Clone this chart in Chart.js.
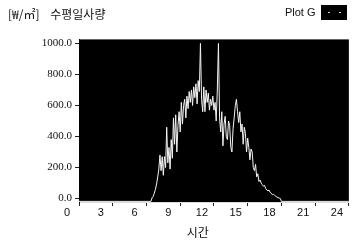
<!DOCTYPE html>
<html>
<head>
<meta charset="utf-8">
<script src="https://cdn.jsdelivr.net/npm/chart.js@4"></script>
<style>
  body { margin: 0; background: #fff; }
</style>
</head>
<body>
<canvas id="solarChart" width="355" height="240"></canvas>
<script>
// hour of day (x) and horizontal irradiance in W/m2 (y); sensor sits slightly below 0 at night
let hours = [0, 6.4, 6.5, 6.6, 6.7, 6.8, 6.9, 7.0, 7.1, 7.2, 7.3, 7.4, 7.5, 7.6, 7.7, 7.8, 7.9,
    8.0, 8.1, 8.2, 8.3, 8.4, 8.5, 8.6, 8.7, 8.8, 8.9, 9.0, 9.1, 9.2, 9.3, 9.4, 9.5, 9.6, 9.7, 9.8, 9.9,
    10.0, 10.1, 10.2, 10.3, 10.4, 10.5, 10.6, 10.7, 10.8, 10.9, 11.0, 11.1, 11.2, 11.3, 11.4, 11.5,
    11.6, 11.7, 11.8, 11.9, 12.0, 12.1, 12.2, 12.3, 12.4, 12.5, 12.6, 12.7, 12.8, 12.9, 13.0, 13.1,
    13.2, 13.3, 13.4, 13.5, 13.6, 13.7, 13.8, 13.9, 14.0, 14.1, 14.2, 14.3, 14.4, 14.5, 14.6, 14.7,
    14.8, 14.9, 15.0, 15.1, 15.2, 15.3, 15.4, 15.5, 15.6, 15.7, 15.8, 15.9, 16.0, 16.1, 16.2, 16.3,
    16.4, 16.5, 16.6, 16.7, 16.8, 16.9, 17.0, 17.1, 17.2, 17.3, 17.4, 17.5, 17.6, 17.7, 17.8, 17.9,
    18.0, 24];
let irradiance = [-18, -18, 5, 15, 35, 60, 95, 140, 190, 280, 180, 270, 150, 270, 200, 460, 230,
    330, 190, 380, 260, 520, 350, 540, 300, 470, 560, 430, 620, 480, 600, 640, 520, 660, 580, 690, 620,
    700, 600, 720, 650, 740, 610, 760, 690, 1000, 640, 560, 720, 560, 700, 620, 680,
    570, 640, 600, 660, 570, 620, 500, 700, 1000, 520, 430, 560, 340, 480, 530, 400,
    380, 500, 470, 330, 300, 450, 520, 600, 640, 560, 490, 560, 430, 480, 350, 460,
    420, 300, 390, 330, 250, 320, 300, 200, 180, 220, 140, 160, 110, 120, 100, 90,
    80, 85, 65, 55, 50, 55, 40, 35, 25, 28, 20, 15, 10, 6, 3, 1,
    -18, -18];
let xTicks = [0, 3, 6, 9, 12, 15, 18, 21, 24];
let yTicks = [0, 200, 400, 600, 800, 1000];

// little black legend swatch with a white dotted line sample
let swatch = document.createElement("canvas");
swatch.width = 26;
swatch.height = 15;
let sctx = swatch.getContext("2d");
sctx.fillStyle = "#000";
sctx.fillRect(0, 0, 26, 15);
sctx.fillStyle = "#ddd";
sctx.fillRect(7, 7, 2, 1);
sctx.fillRect(18, 7, 2, 1);

// black plot area like the original instrument panel
let plotBackground = {
    id: "plotBackground",
    beforeDraw(chart) {
        let a = chart.chartArea;
        chart.ctx.save();
        chart.ctx.fillStyle = "#000";
        chart.ctx.fillRect(a.left, a.top, a.right - a.left, a.bottom - a.top);
        chart.ctx.restore();
    },
};

let ctx = document.getElementById("solarChart").getContext("2d");
let solarChart = new Chart(ctx, {
    type: "line",
    data: {
        datasets: [
            {
                label: "Plot G",
                data: hours.map((h, i) => ({ x: h, y: irradiance[i] })),
                borderColor: "#f4f4f4",
                backgroundColor: "#000",
                borderWidth: 1,
                pointRadius: 0,
                tension: 0,
            },
        ],
    },
    options: {
        responsive: false,
        animation: false,
        layout: { padding: { left: 8, right: 5, top: 4, bottom: 0 } },
        plugins: {
            title: {
                display: true,
                weight: 100,
                text: "[₩/㎡]    수평일사량",
                align: "start",
                color: "#111",
                font: { family: "Noto Sans CJK KR", size: 12, weight: "normal" },
                padding: { top: -21, bottom: 18 },
            },
            legend: {
                display: true,
                weight: 1000,
                align: "start",
                rtl: true,
                labels: {
                    usePointStyle: true,
                    pointStyle: swatch,
                    pointStyleWidth: 26,
                    color: "#111",
                    font: { family: "Liberation Sans", size: 11 },
                    padding: 3,
                },
            },
            tooltip: { enabled: false },
        },
        scales: {
            x: {
                type: "linear",
                min: 0,
                max: 24,
                afterBuildTicks(scale) {
                    scale.ticks = xTicks.map((v) => ({ value: v }));
                },
                afterFit(scale) {
                    scale.height = 38;
                },
                grid: { drawOnChartArea: false, tickLength: 4, color: "#222" },
                border: { color: "#ddd" },
                ticks: {
                    color: "#111",
                    font: { family: "Liberation Sans", size: 11 },
                    maxRotation: 0,
                    autoSkip: false,
                    labelOffset: -12,
                    padding: 0,
                },
                title: {
                    display: true,
                    text: "시간\u00a0\u00a0\u00a0\u00a0\u00a0\u00a0\u00a0\u00a0\u00a0\u00a0\u00a0\u00a0",
                    color: "#111",
                    font: { family: "Noto Sans CJK KR", size: 12 },
                    padding: { top: -2, bottom: 0 },
                },
            },
            y: {
                min: -22,
                max: 1026,
                afterBuildTicks(scale) {
                    scale.ticks = yTicks.map((v) => ({ value: v }));
                },
                afterFit(scale) {
                    scale.width = 71;
                },
                grid: { drawOnChartArea: false, tickLength: 4, color: "#222" },
                border: { color: "#000" },
                ticks: {
                    color: "#111",
                    font: { family: "Liberation Sans Narrow", size: 11 },
                    padding: 3,
                    callback: (v) => v.toFixed(1),
                },
            },
        },
    },
    plugins: [plotBackground],
});
</script>
</body>
</html>
